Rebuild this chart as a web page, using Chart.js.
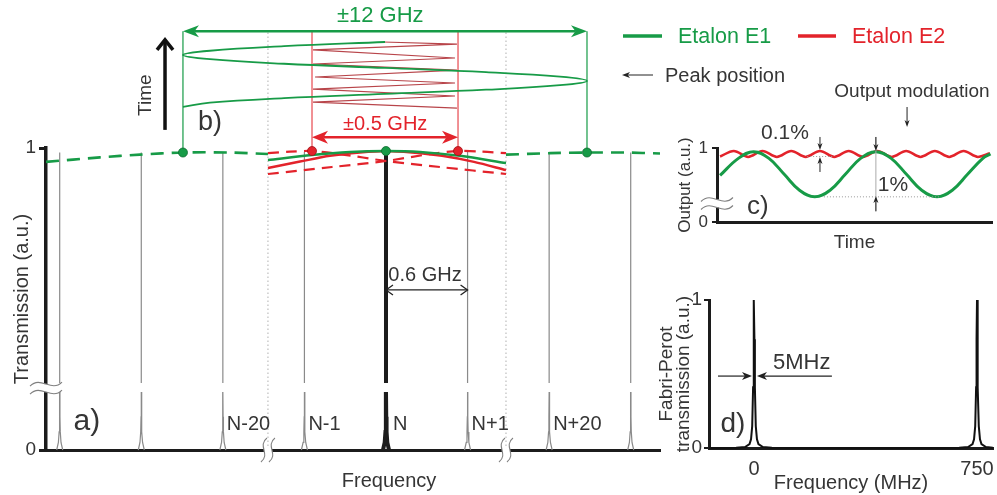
<!DOCTYPE html>
<html><head><meta charset="utf-8">
<script src="https://cdn.jsdelivr.net/npm/chart.js@4.4.1/dist/chart.umd.min.js"></script>
<style>
html,body{margin:0;padding:0;background:#fff;}
#wrap{position:relative;width:997px;height:495px;overflow:hidden;background:#fff;}
canvas{position:absolute;}
</style></head><body>
<div id="wrap">
<canvas id="cA" width="997" height="495" style="left:0;top:0;width:997px;height:495px"></canvas>
<canvas id="cC" width="400" height="255" style="left:597px;top:0;width:400px;height:255px"></canvas>
<canvas id="cD" width="357" height="210" style="left:640px;top:285px;width:357px;height:210px"></canvas>
</div>
<script>
// ---------------- DATA ----------------
// Panel a: etalon transmission comb (x = display position, axis broken between groups)
const peakPos    = [-4, -3, -2, -1, 0, 1, 2, 3];
const peakLabels = ['', '', 'N-20', 'N-1', 'N', 'N+1', 'N+20', ''];
const peakTop    = [0.985, 0.985, 0.985, 0.987, 0.99, 0.987, 0.985, 0.985];
const wingDX     = [0.037, 0.016, 0.007, 0.003, 0];   // half-width of peak foot
const wingY      = [0, 0.025, 0.06, 0.11, 0.192];
const gapTop     = 0.222;                              // top of the y-axis break gap
const yBreakAt   = 0.205;
const yTicksA    = [0, 1];
const breakX     = [-1.447, 1.471];                    // x-axis breaks (dotted lines)

// envelope of E1 (dashed) outside the break region
const envLeftX  = [-4.168, -3.506, -3.016, -2.489, -1.912, -1.447];
const envLeftY  = [0.954, 0.969, 0.978, 0.985, 0.985, 0.980];
const envRightX = [1.471, 2.011, 2.464, 2.930, 3.359];
const envRightY = [0.978, 0.983, 0.985, 0.985, 0.982];
// near peak N
const midE1X = [-1.447, -0.907, -0.441, 0, 0.417, 0.907, 1.471];
const midE1Y = [0.960, 0.977, 0.987, 0.990, 0.987, 0.974, 0.950];
const midE2X = [-1.447, -1.054, -0.687, -0.319, 0, 0.319, 0.687, 1.079, 1.471];
const midE2Y = [0.934, 0.955, 0.974, 0.985, 0.990, 0.985, 0.974, 0.954, 0.927];
const e2LeftX  = [-1.447, -1.177, -0.907, -0.564, 0, 0.662, 1.471];
const e2LeftY  = [0.983, 0.988, 0.990, 0.980, 0.957, 0.937, 0.914];
const e2RightX = [-1.447, -0.662, 0, 0.539, 0.883, 1.177, 1.471];
const e2RightY = [0.914, 0.937, 0.957, 0.980, 0.990, 0.988, 0.983];
// peak positions (dots)
const e1PeakX = [-2.489, 0, 2.464];
const e1PeakY = [0.985, 0.99, 0.985];
const e2PeakX = [-0.907, 0.883];
const e2PeakY = [0.99, 0.99];

// Panel b: peak position versus time (drawn above panel a)
const scanTop = 1.387;
const e1ScanX = [-0.012, -1.250, -2.158, -2.489, -2.158, -1.250, -0.012, 1.226, 2.133, 2.464, 2.133, 1.226, -0.012, -1.250, -2.158, -2.489];
const e1ScanT = [1.351, 1.337, 1.322, 1.308, 1.294, 1.279, 1.265, 1.251, 1.236, 1.222, 1.208, 1.193, 1.179, 1.165, 1.150, 1.136];
const e2ScanX = [-0.037, 0.870, -0.895, 0.846, -0.895, 0.870, -0.870, 0.846, -0.895, 0.846, -0.895, 0.870];
const e2ScanT = [1.351, 1.344, 1.325, 1.298, 1.278, 1.258, 1.235, 1.215, 1.195, 1.172, 1.152, 1.132];

// Panel c: output vs time
const timeE1 = [0.1, 0.7, 1.2, 1.7, 2.2, 2.7, 3.2, 3.7, 4.2, 4.7, 5.2, 5.7, 6.2, 6.7, 7.2, 7.7, 8.2, 8.7, 8.95];
const outE1  = [0.63, 0.86, 0.95, 0.86, 0.645, 0.43, 0.34, 0.43, 0.645, 0.86, 0.95, 0.86, 0.645, 0.43, 0.34, 0.43, 0.645, 0.86, 0.92];
const timeE2 = [0.1, 0.55, 1.02, 1.49, 1.96, 2.43, 2.90, 3.37, 3.84, 4.31, 4.78, 5.25, 5.72, 6.19, 6.66, 7.13, 7.60, 8.07, 8.54, 8.93];
const outE2  = [0.885, 0.96, 0.88, 0.96, 0.88, 0.96, 0.88, 0.96, 0.88, 0.96, 0.88, 0.96, 0.88, 0.96, 0.88, 0.96, 0.88, 0.96, 0.88, 0.93];
const yTicksC = [0, 1];

// Panel d: Fabry-Perot transmission
const fpFreq  = [-151, -60, -30, -15, -10, -6, -3, -1.5, 0, 1.5, 3, 6, 10, 15, 30, 60, 375, 690, 720, 735, 740, 744, 747, 748.5, 750, 751.5, 753, 756, 760, 765, 780, 803];
const fpTrans = [0, 0.002, 0.007, 0.027, 0.059, 0.148, 0.41, 0.735, 1, 0.735, 0.41, 0.148, 0.059, 0.027, 0.007, 0.002, 0, 0.002, 0.007, 0.027, 0.059, 0.148, 0.41, 0.735, 1, 0.735, 0.41, 0.148, 0.059, 0.027, 0.007, 0.002];
const fpTicks = [0, 750];
const yTicksD = [0, 1];

// ---------------- STYLE ----------------
const GREEN = '#179b47', RED = '#e3232b', INK = '#353535', AXIS = '#1c1c1c', PEAK = '#8a8a8a';
const FONT = '"Liberation Sans", Arial, Helvetica, sans-serif';
Chart.defaults.font.family = FONT;
Chart.defaults.color = INK;

function pts(xs, ys) { return xs.map((x, i) => ({x, y: ys[i]})); }
function line(data, color, width, extra) {
  return Object.assign({data, borderColor: color, backgroundColor: color, borderWidth: width,
    showLine: true, pointRadius: 0, fill: false, tension: 0, clip: false}, extra || {});
}
function peakData(p, top) {
  const d = [];
  for (let i = 0; i < wingDX.length; i++) d.push({x: p - wingDX[i], y: wingY[i]});
  d.push({x: p, y: null});
  d.push({x: p, y: gapTop}); d.push({x: p, y: top});
  d.push({x: p, y: null});
  for (let i = wingDX.length - 1; i >= 0; i--) d.push({x: p + wingDX[i], y: wingY[i]});
  return d;
}
function head(ctx, x, y, ang, len, wid, filled) {
  ctx.save(); ctx.translate(x, y); ctx.rotate(ang); ctx.beginPath();
  if (filled) { ctx.moveTo(0, 0); ctx.lineTo(-len, -wid / 2); ctx.lineTo(-len * 0.72, 0); ctx.lineTo(-len, wid / 2); ctx.closePath(); ctx.fill(); }
  else { ctx.moveTo(-len, -wid / 2); ctx.lineTo(0, 0); ctx.lineTo(-len, wid / 2); ctx.stroke(); }
  ctx.restore();
}
function arrow(ctx, x1, y1, x2, y2, o) {
  const ang = Math.atan2(y2 - y1, x2 - x1), len = o.len || 8, wid = o.wid || 6;
  ctx.save();
  ctx.strokeStyle = o.color; ctx.fillStyle = o.color; ctx.lineWidth = o.width || 1; ctx.lineJoin = 'miter';
  const back = o.filled ? len * 0.7 : 0;
  let sx = x1, sy = y1;
  const ex = x2 - Math.cos(ang) * back, ey = y2 - Math.sin(ang) * back;
  if (o.both && o.filled) { sx += Math.cos(ang) * back; sy += Math.sin(ang) * back; }
  ctx.beginPath(); ctx.moveTo(sx, sy); ctx.lineTo(ex, ey); ctx.stroke();
  head(ctx, x2, y2, ang, len, wid, o.filled);
  if (o.both) head(ctx, x1, y1, ang + Math.PI, len, wid, o.filled);
  ctx.restore();
}
function txt(ctx, s, x, y, size, color, align, rot) {
  ctx.save(); ctx.translate(x, y); if (rot) ctx.rotate(rot);
  ctx.font = size + 'px ' + FONT; ctx.fillStyle = color; ctx.textAlign = align || 'center'; ctx.textBaseline = 'middle';
  ctx.fillText(s, 0, 0); ctx.restore();
}
function hline(ctx, x1, x2, y, color, dash, w) {
  ctx.save(); ctx.strokeStyle = color; ctx.lineWidth = w || 1; ctx.setLineDash(dash || []);
  ctx.beginPath(); ctx.moveTo(x1, y); ctx.lineTo(x2, y); ctx.stroke(); ctx.restore();
}
function xBreak(ctx, cx, cy) {
  ctx.save(); ctx.fillStyle = '#fff'; ctx.fillRect(cx - 4, cy - 3, 8, 6);
  ctx.strokeStyle = '#808080'; ctx.lineWidth = 1.1;
  [-4, 4].forEach(d => { const x = cx + d; ctx.beginPath(); ctx.moveTo(x + 3, cy - 12);
    ctx.bezierCurveTo(x - 7, cy - 4, x + 7, cy + 4, x - 3, cy + 12); ctx.stroke(); });
  ctx.restore();
}
function yBreak(ctx, cx, cy) {
  ctx.save(); ctx.fillStyle = '#fff'; ctx.fillRect(cx - 3, cy - 4, 6, 8);
  ctx.strokeStyle = '#808080'; ctx.lineWidth = 1.1;
  [-4, 4].forEach(d => { const y = cy + d; ctx.beginPath(); ctx.moveTo(cx - 16, y + 2);
    ctx.bezierCurveTo(cx - 5, y - 9, cx + 5, y + 9, cx + 16, y - 2); ctx.stroke(); });
  ctx.restore();
}
const common = {responsive: false, animation: false, devicePixelRatio: 1, events: [],
  plugins: {legend: {display: false}, tooltip: {enabled: false}}};

// ---------------- PANEL a + b ----------------
const dsA = [];
dsA.push(line([{x: breakX[0], y: 0}, {x: breakX[0], y: scanTop}, {x: breakX[0], y: null},
               {x: breakX[1], y: 0}, {x: breakX[1], y: scanTop}], '#b0b0b0', 1, {borderDash: [1.5, 2.5]}));
dsA.push(line([{x: e1PeakX[0], y: e1PeakY[0]}, {x: e1PeakX[0], y: scanTop}, {x: e1PeakX[0], y: null},
               {x: e1PeakX[2], y: e1PeakY[2]}, {x: e1PeakX[2], y: scanTop}], GREEN, 1.2));
dsA.push(line([{x: e2PeakX[0], y: e2PeakY[0]}, {x: e2PeakX[0], y: scanTop}, {x: e2PeakX[0], y: null},
               {x: e2PeakX[1], y: e2PeakY[1]}, {x: e2PeakX[1], y: scanTop}], RED, 1));
dsA.push(line(pts(e2ScanX, e2ScanT), '#b8454a', 1.1));
dsA.push(line(pts(e1ScanX, e1ScanT), GREEN, 1.8, {tension: 0.4}));
peakPos.forEach((p, i) => dsA.push(line(peakData(p, peakTop[i]), i === 4 ? AXIS : PEAK, i === 4 ? 4 : 1.2)));
dsA.push(line(pts(envLeftX, envLeftY).concat([{x: breakX[0], y: null}], pts(envRightX, envRightY)), GREEN, 2.6, {borderDash: [13, 8], tension: 0.3}));
dsA.push(line(pts(e2LeftX, e2LeftY), RED, 2.2, {borderDash: [11, 7], tension: 0.3}));
dsA.push(line(pts(e2RightX, e2RightY), RED, 2.2, {borderDash: [11, 7], tension: 0.3}));
dsA.push(line(pts(midE2X, midE2Y), RED, 2.5, {tension: 0.3}));
dsA.push(line(pts(midE1X, midE1Y), GREEN, 2.5, {tension: 0.3}));
dsA.push({data: pts(e2PeakX, e2PeakY), pointRadius: 4.5, backgroundColor: RED, borderColor: '#a01015', borderWidth: 0.8, clip: false});
dsA.push({data: pts(e1PeakX, e1PeakY), pointRadius: 4.5, backgroundColor: GREEN, borderColor: '#0c6a2e', borderWidth: 0.8, clip: false});
dsA.forEach((d, i) => { d.order = dsA.length - i; });

const annotA = {
  id: 'annotA',
  afterDraw(chart) {
    const {ctx, scales: {x, y}} = chart;
    const X = v => x.getPixelForValue(v), Y = v => y.getPixelForValue(v);
    breakX.forEach(b => xBreak(ctx, X(b), Y(0)));
    yBreak(ctx, X(x.min), Y(yBreakAt));
    // panel b arrows
    arrow(ctx, X(e1PeakX[0]), Y(scanTop), X(e1PeakX[2]), Y(scanTop), {color: GREEN, width: 2.5, filled: true, both: true, len: 16, wid: 12});
    arrow(ctx, X(e2PeakX[0]), Y(1.036), X(e2PeakX[1]), Y(1.036), {color: RED, width: 2.5, filled: true, both: true, len: 16, wid: 13});
    arrow(ctx, X(-2.709), Y(1.060), X(-2.709), Y(1.358), {color: '#111', width: 3.5, len: 10, wid: 16});
    txt(ctx, '±12 GHz', X(-0.07), Y(1.438), 22, GREEN);
    txt(ctx, '±0.5 GHz', X(-0.01), Y(1.079), 20, RED);
    txt(ctx, 'Time', X(-2.942), Y(1.175), 19, INK, 'center', -Math.PI / 2);
    txt(ctx, 'b)', X(-2.158), Y(1.083), 27, INK);
    // panel a annotations
    arrow(ctx, X(0), Y(0.530), X(1), Y(0.530), {color: '#222', width: 1.3, both: true, len: 7, wid: 10});
    txt(ctx, '0.6 GHz', X(0.478), Y(0.579), 20, INK);
    txt(ctx, 'a)', X(-3.666), Y(0.093), 30, INK);
    peakPos.forEach((p, i) => { if (peakLabels[i]) txt(ctx, peakLabels[i], X(p) + (i === 4 ? 7 : 4), Y(0.083), 20, INK, 'left'); });
    txt(ctx, 'Frequency', X(0.037), Y(-0.103), 20, INK);
  }
};

new Chart(document.getElementById('cA'), {
  type: 'scatter',
  data: {datasets: dsA},
  options: Object.assign({}, common, {
    layout: {padding: {left: 0, top: 148, right: 337, bottom: 0}},
    scales: {
      x: {type: 'linear', min: -4.168, max: 3.359, ticks: {display: false}, grid: {display: false},
          border: {display: true, color: AXIS, width: 3}, afterFit: s => { s.height = 45; }},
      y: {type: 'linear', min: 0, max: 1,
          afterBuildTicks: s => { s.ticks = yTicksA.map(v => ({value: v})); },
          ticks: {font: {size: 19}, color: INK, padding: 3},
          grid: {display: true, drawOnChartArea: false, drawTicks: true, tickLength: 7, lineWidth: 3, color: AXIS},
          border: {display: true, color: AXIS, width: 3.5},
          title: {display: true, text: 'Transmission (a.u.)', font: {size: 20}, color: INK, padding: {top: 10, bottom: 0}},
          afterFit: s => { s.width = 46; }}
    }
  }),
  plugins: [annotA]
});

// ---------------- PANEL c ----------------
const annotC = {
  id: 'annotC',
  afterDraw(chart) {
    const {ctx, scales: {x, y}} = chart;
    const X = v => x.getPixelForValue(v), Y = v => y.getPixelForValue(v);
    yBreak(ctx, X(x.min), Y(0.25));
    // legend
    hline(ctx, 26, 65, 36, GREEN, [], 3.5);
    txt(ctx, 'Etalon E1', 81, 37, 21.5, GREEN, 'left');
    hline(ctx, 201, 239, 36, RED, [], 3.5);
    txt(ctx, 'Etalon E2', 255, 37, 21.5, RED, 'left');
    arrow(ctx, 56, 75, 25, 75, {color: '#222', width: 1, filled: true, len: 8, wid: 6});
    txt(ctx, 'Peak position', 68, 76, 20, INK, 'left');
    // modulation annotations
    txt(ctx, 'Output modulation', X(6.38), Y(1.757), 19, INK);
    arrow(ctx, X(6.22), Y(1.554), X(6.22), Y(1.284), {color: '#222', width: 1, filled: true, len: 7, wid: 5});
    txt(ctx, '0.1%', X(2.225), Y(1.203), 21, INK);
    hline(ctx, X(2.95), X(3.80), Y(0.885), '#999', [1, 2]);
    arrow(ctx, X(3.37), Y(1.149), X(3.37), Y(0.973), {color: '#222', width: 1, filled: true, len: 7, wid: 5});
    arrow(ctx, X(3.37), Y(0.676), X(3.37), Y(0.878), {color: '#222', width: 1, filled: true, len: 7, wid: 5});
    ctx.save(); ctx.strokeStyle = '#aaa'; ctx.lineWidth = 1; ctx.beginPath();
    ctx.moveTo(X(5.2), Y(1.149)); ctx.lineTo(X(5.2), Y(0.135)); ctx.stroke(); ctx.restore();
    arrow(ctx, X(5.2), Y(1.149), X(5.2), Y(0.96), {color: '#222', width: 1, filled: true, len: 7, wid: 5});
    arrow(ctx, X(5.2), Y(0.149), X(5.2), Y(0.351), {color: '#222', width: 1, filled: true, len: 7, wid: 5});
    hline(ctx, X(3.5), X(7.3), Y(0.34), '#999', [1, 2]);
    txt(ctx, '1%', X(5.76), Y(0.5), 21, INK);
    txt(ctx, 'c)', X(1.34), Y(0.203), 26, INK);
  }
};
new Chart(document.getElementById('cC'), {
  type: 'scatter',
  data: {datasets: [
    line(pts(timeE2, outE2), RED, 2.5, {cubicInterpolationMode: 'monotone', clip: 4, order: 2}),
    line(pts(timeE1, outE1), GREEN, 3, {tension: 0.4, clip: 4, order: 1})
  ]},
  options: Object.assign({}, common, {
    layout: {padding: {left: 0, top: 148, right: 5, bottom: 0}},
    scales: {
      x: {type: 'linear', min: 0, max: 9, ticks: {display: false}, grid: {display: false},
          border: {display: true, color: AXIS, width: 3},
          title: {display: true, text: 'Time', font: {size: 19}, color: INK, padding: {top: 0, bottom: 1}},
          afterFit: s => { s.height = 33; }},
      y: {type: 'linear', min: 0, max: 1,
          afterBuildTicks: s => { s.ticks = yTicksC.map(v => ({value: v})); },
          ticks: {font: {size: 17}, color: INK, padding: 4},
          grid: {display: true, drawOnChartArea: false, drawTicks: true, tickLength: 5, lineWidth: 2, color: AXIS},
          border: {display: true, color: AXIS, width: 3},
          title: {display: true, text: 'Output (a.u.)', font: {size: 17}, color: INK, padding: {top: 78, bottom: 0}},
          afterFit: s => { s.width = 120; }}
    }
  }),
  plugins: [annotC]
});

// ---------------- PANEL d ----------------
const annotD = {
  id: 'annotD',
  afterDraw(chart) {
    const {ctx, scales: {x, y}} = chart;
    const X = v => x.getPixelForValue(v), Y = v => y.getPixelForValue(v);
    txt(ctx, 'd)', X(-70.6), Y(0.162), 28, INK);
    txt(ctx, '5MHz', X(64), Y(0.574), 22, INK, 'left');
    arrow(ctx, X(-121), Y(0.486), X(-6.7), Y(0.486), {color: '#222', width: 1.2, filled: true, len: 10, wid: 8});
    arrow(ctx, X(262), Y(0.486), X(10), Y(0.486), {color: '#222', width: 1.2, filled: true, len: 10, wid: 8});
  }
};
new Chart(document.getElementById('cD'), {
  type: 'scatter',
  data: {datasets: [line(pts(fpFreq, fpTrans), '#111', 2, {clip: 3})]},
  options: Object.assign({}, common, {
    layout: {padding: {left: 0, top: 15, right: 4, bottom: 0}},
    scales: {
      x: {type: 'linear', min: -151.3, max: 803.8,
          afterBuildTicks: s => { s.ticks = fpTicks.map(v => ({value: v})); },
          ticks: {font: {size: 20}, color: INK, padding: 1}, grid: {display: false},
          border: {display: true, color: AXIS, width: 3},
          title: {display: true, text: 'Frequency (MHz)', font: {size: 20}, color: INK, padding: {top: 0, bottom: 0}},
          afterFit: s => { s.height = 47; }},
      y: {type: 'linear', min: 0, max: 1,
          afterBuildTicks: s => { s.ticks = yTicksD.map(v => ({value: v})); },
          ticks: {font: {size: 19}, color: INK, padding: 2},
          grid: {display: true, drawOnChartArea: false, drawTicks: true, tickLength: 5, lineWidth: 2, color: AXIS},
          border: {display: true, color: AXIS, width: 3},
          title: {display: true, text: ['Fabri-Perot', 'transmission (a.u.)'], font: {size: 19, lineHeight: 0.9}, color: INK, padding: {top: 18.5, bottom: 0}},
          afterFit: s => { s.width = 69; }}
    }
  }),
  plugins: [annotD]
});
</script>
</body></html>
